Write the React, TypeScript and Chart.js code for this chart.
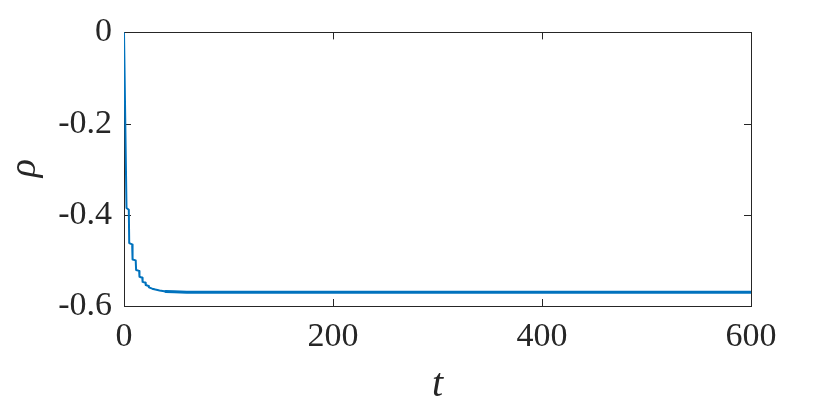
import React, { useEffect, useRef } from "react";
import { Chart, registerables } from "chart.js";

Chart.register(...registerables);

const tValues = [0, 2.4, 4.6, 5.0, 7.8, 8.2, 11.2, 11.6, 14.5, 14.8, 17.5, 17.8, 20.5, 20.8, 23.5, 23.8, 27, 30, 34, 40, 48, 60, 80, 120, 200, 300, 400, 500, 600];
const rhoValues = [0, -0.385, -0.389, -0.462, -0.465, -0.498, -0.5, -0.521, -0.523, -0.536, -0.538, -0.547, -0.549, -0.554, -0.556, -0.559, -0.562, -0.564, -0.566, -0.568, -0.569, -0.570, -0.570, -0.570, -0.570, -0.570, -0.570, -0.570, -0.570];
const xTicks = [0, 200, 400, 600];
const yTicks = [0, -0.2, -0.4, -0.6];
const yTickLabels = ["0", "-0.2", "-0.4", "-0.6"];
const xTickLabels = ["0", "200", "400", "600"];
const xLabel = "t";
const yLabel = "ρ";

const FONT = "'Liberation Serif', 'DejaVu Serif', serif";
const AXIS = "#262626";
const LINE = "#0072BD";

const boxPlugin = {
  id: "matlabBox",
  beforeDatasetsDraw(chart: any) {
    const { ctx, chartArea } = chart;
    const { left, right, top, bottom } = chartArea;
    const xs = chart.scales.x;
    const ys = chart.scales.y;
    ctx.save();
    ctx.strokeStyle = AXIS;
    ctx.lineWidth = 1;
    ctx.strokeRect(Math.round(left) + 0.5, Math.round(top) + 0.5, Math.round(right - left), Math.round(bottom - top));
    const L = 7;
    ctx.beginPath();
    xTicks.forEach((v) => {
      const x = Math.round(xs.getPixelForValue(v)) + 0.5;
      ctx.moveTo(x, bottom);
      ctx.lineTo(x, bottom - L);
      ctx.moveTo(x, top);
      ctx.lineTo(x, top + L);
    });
    yTicks.forEach((v) => {
      const y = Math.round(ys.getPixelForValue(v)) + 0.5;
      ctx.moveTo(left, y);
      ctx.lineTo(left + L, y);
      ctx.moveTo(right, y);
      ctx.lineTo(right - L, y);
    });
    ctx.stroke();
    ctx.restore();
  },
  afterDraw(chart: any) {
    const { ctx, chartArea } = chart;
    ctx.save();
    ctx.fillStyle = AXIS;
    ctx.font = `italic 38px ${FONT}`;
    ctx.textAlign = "center";
    ctx.textBaseline = "alphabetic";
    ctx.translate(35, (chartArea.top + chartArea.bottom) / 2 - 1);
    ctx.rotate(-Math.PI / 2);
    ctx.fillText(yLabel, 0, 0);
    ctx.restore();
  },
};

export default function App() {
  const ref = useRef<HTMLCanvasElement>(null);
  useEffect(() => {
    document.body.style.margin = "0";
    const points = tValues.map((t, i) => ({ x: t, y: rhoValues[i] }));
    const chart = new Chart(ref.current!, {
      type: "line",
      data: {
        datasets: [
          {
            data: points,
            borderColor: LINE,
            borderWidth: 2,
            borderJoinStyle: "round",
            borderCapStyle: "round",
            pointRadius: 0,
            tension: 0,
            fill: false,
            segment: {
              borderWidth: (c: any) => (c.p0.parsed.x >= 40 ? 3 : 2),
            },
          },
        ],
      },
      options: {
        animation: false,
        responsive: false,
        events: [],
        layout: { padding: { top: 30, right: 79, left: 0, bottom: 0 } },
        plugins: { legend: { display: false }, tooltip: { enabled: false } },
        scales: {
          x: {
            type: "linear",
            min: 0,
            max: 600,
            afterBuildTicks: (s: any) => {
              s.ticks = xTicks.map((v) => ({ value: v }));
            },
            afterFit: (s: any) => {
              s.height = 107;
            },
            grid: { display: false, drawTicks: false },
            border: { display: false },
            ticks: {
              color: AXIS,
              font: { family: FONT, size: 34 },
              padding: 11,
              maxRotation: 0,
              callback: (v: any) => xTickLabels[xTicks.indexOf(Number(v))] ?? "",
            },
            title: {
              display: true,
              text: xLabel,
              color: AXIS,
              font: { family: FONT, size: 40, style: "italic" },
              padding: { top: 0, bottom: 4 },
            },
          },
          y: {
            type: "linear",
            min: -0.6,
            max: 0,
            afterBuildTicks: (s: any) => {
              s.ticks = yTicks.map((v) => ({ value: v }));
            },
            afterFit: (s: any) => {
              s.width = 124;
            },
            grid: { display: false, drawTicks: false },
            border: { display: false },
            ticks: {
              color: AXIS,
              font: { family: FONT, size: 34 },
              padding: 12,
              callback: (v: any) => {
                const i = yTicks.findIndex((t) => Math.abs(t - Number(v)) < 1e-9);
                return i >= 0 ? yTickLabels[i] : "";
              },
            },
          },
        },
      },
      plugins: [boxPlugin],
    } as any);
    return () => chart.destroy();
  }, []);
  return (
    <div style={{ width: 830, height: 413 }}>
      <canvas ref={ref} width={830} height={413} style={{ display: "block", width: 830, height: 413 }} />
    </div>
  );
}
